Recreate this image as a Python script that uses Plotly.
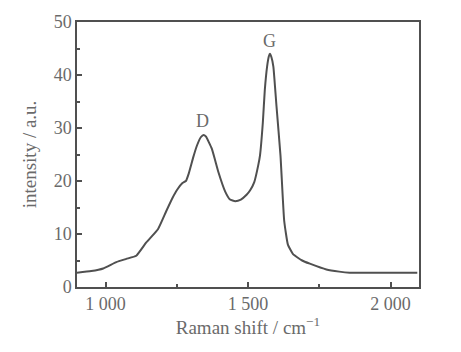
import plotly.graph_objects as go

# Raman spectrum
shift = [900, 950, 992, 1038, 1073, 1108, 1143, 1184, 1213, 1235, 1252, 1270, 1282, 1292,
         1308, 1321, 1335, 1344, 1352, 1373, 1396, 1420, 1437, 1455, 1475, 1495, 1507,
         1522, 1536, 1542, 1552, 1559, 1567, 1573, 1577, 1582, 1589, 1600, 1614, 1627,
         1640, 1658, 1690, 1717, 1775, 1820, 1857, 1950, 2050, 2094]
intensity = [2.7, 3.0, 3.5, 4.7, 5.3, 5.9, 8.4, 10.9, 14.3, 16.8, 18.4, 19.6, 20.0, 21.4,
             24.5, 26.7, 28.3, 28.7, 28.4, 26.1, 21.7, 18.0, 16.5, 16.2, 16.5, 17.4, 18.2,
             19.8, 23.0, 24.8, 31.0, 37.2, 41.6, 43.5, 44.0, 43.4, 41.6, 34.1, 24.8, 12.5,
             8.0, 6.2, 5.0, 4.4, 3.3, 2.9, 2.7, 2.7, 2.7, 2.7]

x_tickvals = [1000, 1500, 2000]
x_ticktext = ["1 000", "1 500", "2 000"]
y_tickvals = [0, 10, 20, 30, 40, 50]

peak_labels = ["D", "G"]
peak_x = [1340, 1577]
peak_y = [31.4, 46.5]

ink = "#505050"
txt = "#6a6a6a"
tick_font = dict(family="Liberation Serif", size=18, color=txt)
title_font = dict(family="Liberation Serif", size=19, color=txt)

fig = go.Figure()
fig.add_trace(go.Scatter(x=shift, y=intensity, mode="lines",
                         line=dict(color=ink, width=2, shape="spline", smoothing=0.4),
                         showlegend=False, hoverinfo="skip"))

for lab, xx, yy in zip(peak_labels, peak_x, peak_y):
    fig.add_annotation(x=xx, y=yy, text=lab, showarrow=False,
                       font=dict(family="Liberation Serif", size=18, color=txt))

fig.update_layout(
    width=461, height=352,
    margin=dict(l=77, r=42, t=17, b=65),
    paper_bgcolor="white", plot_bgcolor="white",
    font=tick_font,
)
fig.update_xaxes(range=[900, 2100], tickvals=x_tickvals, ticktext=x_ticktext,
                 tickfont=tick_font,
                 ticks="inside", ticklen=5, tickwidth=1.5, tickcolor=ink,
                 minor=dict(tickvals=[1250, 1750], ticks="inside", ticklen=3, tickcolor=ink),
                 showline=True, linecolor=ink, linewidth=1.5, mirror=True,
                 showgrid=False, zeroline=False,
                 title=dict(text="Raman shift / cm<sup>−1</sup>", font=title_font, standoff=6))
fig.update_yaxes(range=[0, 50], tickvals=y_tickvals, tickfont=tick_font,
                 ticks="inside", ticklen=5, tickwidth=1.5, tickcolor=ink,
                 minor=dict(tickvals=[5, 15, 25, 35, 45], ticks="inside", ticklen=3, tickcolor=ink),
                 showline=True, linecolor=ink, linewidth=1.5, mirror=True,
                 showgrid=False, zeroline=False,
                 title=dict(text="intensity / a.u.", font=title_font, standoff=12))

fig.write_html("out.html")
